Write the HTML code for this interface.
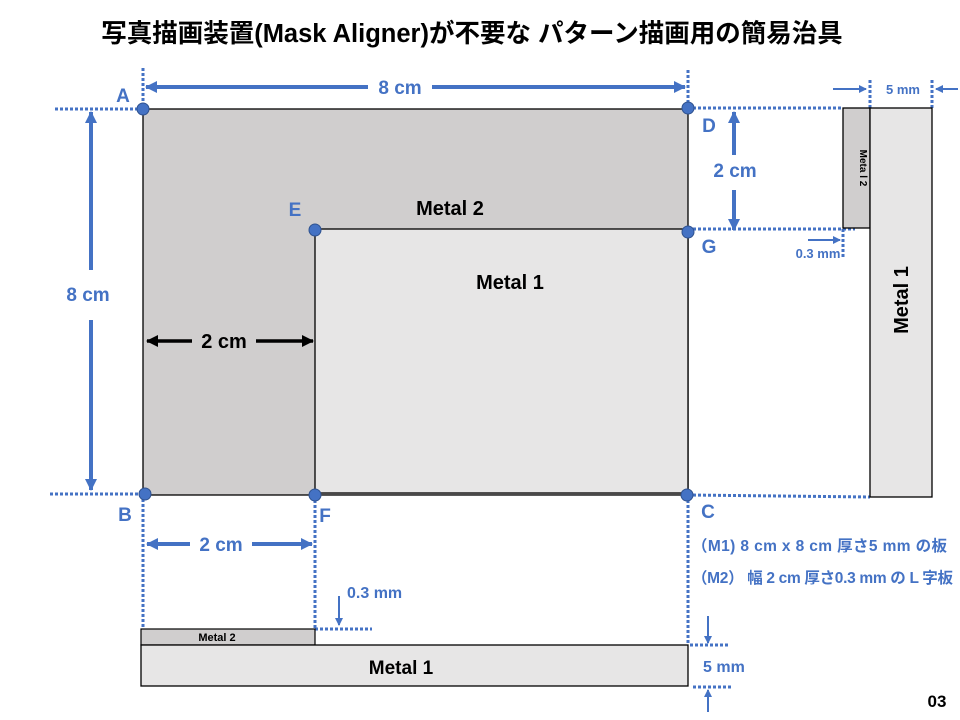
<!DOCTYPE html>
<html><head><meta charset="utf-8"><style>
html,body{margin:0;padding:0;background:#fff;width:960px;height:720px;overflow:hidden}
svg{display:block}
text{font-family:"Liberation Sans","Noto Sans CJK JP",sans-serif;font-weight:bold}
</style></head><body>
<svg width="960" height="720" viewBox="0 0 960 720" xmlns="http://www.w3.org/2000/svg">
<defs>
<marker id="ab" markerWidth="12" markerHeight="12" refX="11" refY="6" orient="auto" markerUnits="userSpaceOnUse"><path d="M0,0 L12,6 L0,12 z" fill="#4472c4"/></marker>
<marker id="ak" markerWidth="12" markerHeight="12" refX="11" refY="6" orient="auto" markerUnits="userSpaceOnUse"><path d="M0,0 L12,6 L0,12 z" fill="#000"/></marker>
<marker id="as" markerWidth="8" markerHeight="8" refX="7" refY="4" orient="auto" markerUnits="userSpaceOnUse"><path d="M0,0 L8,4 L0,8 z" fill="#4472c4"/></marker>
</defs>
<text x="472" y="42" font-size="25.5" text-anchor="middle" fill="#000">写真描画装置(Mask Aligner)が不要な パターン描画用の簡易治具</text>

<rect x="143" y="109" width="545" height="386" fill="#d0cece" stroke="#000" stroke-width="1.3"/>
<rect x="315" y="229" width="373" height="264" fill="#e7e6e6" stroke="#000" stroke-width="1.3"/>
<text x="450" y="215" font-size="20" text-anchor="middle" fill="#000">Metal 2</text>
<text x="510" y="289" font-size="20" text-anchor="middle" fill="#000">Metal 1</text>

<g stroke="#4472c4" stroke-width="3" stroke-dasharray="3,2" fill="none">
<line x1="55" y1="109" x2="143" y2="109"/>
<line x1="143" y1="68" x2="143" y2="109"/>
<line x1="688" y1="70" x2="688" y2="107"/>
<line x1="688" y1="108" x2="843" y2="108"/>
<line x1="688" y1="229" x2="855" y2="229"/>
<line x1="843" y1="229" x2="843" y2="258"/>
<line x1="50" y1="494" x2="145" y2="494"/>
<line x1="688" y1="495" x2="870" y2="497"/>
<line x1="143" y1="494" x2="143" y2="630"/>
<line x1="315" y1="495" x2="315" y2="628"/>
<line x1="688" y1="495" x2="688" y2="645"/>
<line x1="315" y1="629" x2="372" y2="629"/>
<line x1="690" y1="645" x2="728" y2="645"/>
<line x1="693" y1="687" x2="732" y2="687"/>
<line x1="870" y1="80" x2="870" y2="108"/>
<line x1="932" y1="80" x2="932" y2="108"/>
</g>

<g stroke="#4472c4" stroke-width="4">
<line x1="368" y1="87" x2="146" y2="87" marker-end="url(#ab)"/>
<line x1="432" y1="87" x2="685" y2="87" marker-end="url(#ab)"/>
<line x1="91" y1="270" x2="91" y2="112" marker-end="url(#ab)"/>
<line x1="91" y1="320" x2="91" y2="490" marker-end="url(#ab)"/>
<line x1="190" y1="544" x2="147" y2="544" marker-end="url(#ab)"/>
<line x1="252" y1="544" x2="312" y2="544" marker-end="url(#ab)"/>
<line x1="734" y1="155" x2="734" y2="112" marker-end="url(#ab)"/>
<line x1="734" y1="190" x2="734" y2="230" marker-end="url(#ab)"/>
</g>
<g stroke="#000" stroke-width="3.5">
<line x1="192" y1="341" x2="147" y2="341" marker-end="url(#ak)"/>
<line x1="256" y1="341" x2="313" y2="341" marker-end="url(#ak)"/>
</g>
<text x="224" y="348" font-size="20" text-anchor="middle" fill="#000">2 cm</text>
<g stroke="#4472c4" stroke-width="2">
<line x1="833" y1="89" x2="866" y2="89" marker-end="url(#as)"/>
<line x1="958" y1="89" x2="936" y2="89" marker-end="url(#as)"/>
<line x1="808" y1="240" x2="840" y2="240" marker-end="url(#as)"/>
<line x1="890" y1="240" x2="874" y2="240" marker-end="url(#as)"/>
<line x1="339" y1="596" x2="339" y2="625" marker-end="url(#as)"/>
<line x1="339" y1="680" x2="339" y2="649" marker-end="url(#as)"/>
<line x1="708" y1="616" x2="708" y2="643" marker-end="url(#as)"/>
<line x1="708" y1="712" x2="708" y2="690" marker-end="url(#as)"/>
</g>

<g fill="#4472c4" font-size="19">
<text x="400" y="94" text-anchor="middle">8 cm</text>
<text x="88" y="301" text-anchor="middle">8 cm</text>
<text x="221" y="551" text-anchor="middle">2 cm</text>
<text x="735" y="177" text-anchor="middle">2 cm</text>
<text x="123" y="102" text-anchor="middle">A</text>
<text x="709" y="132" text-anchor="middle">D</text>
<text x="295" y="216" text-anchor="middle">E</text>
<text x="709" y="253" text-anchor="middle">G</text>
<text x="125" y="521" text-anchor="middle">B</text>
<text x="325" y="522" text-anchor="middle">F</text>
<text x="708" y="518" text-anchor="middle">C</text>
</g>
<g fill="#4472c4" font-size="13">
<text x="903" y="94" text-anchor="middle">5 mm</text>
<text x="818" y="258" text-anchor="middle">0.3 mm</text>
</g>
<g fill="#4472c4" font-size="16">
<text x="347" y="598">0.3 mm</text>
<text x="703" y="672">5 mm</text>
</g>
<g fill="#4472c4" font-size="15.5">
<text x="692" y="551" textLength="255">（M1) 8  cm  x   8  cm  厚さ5 mm の板</text>
<text x="692" y="583" textLength="261">（M2）  幅 2 cm 厚さ0.3 mm の L 字板</text>
</g>

<g fill="#4472c4" stroke="#2f528f" stroke-width="1">
<circle cx="143" cy="109" r="6"/>
<circle cx="688" cy="108" r="6"/>
<circle cx="315" cy="230" r="6"/>
<circle cx="688" cy="232" r="6"/>
<circle cx="145" cy="494" r="6"/>
<circle cx="315" cy="495" r="6"/>
<circle cx="687" cy="495" r="6"/>
</g>

<rect x="843" y="108" width="27" height="120" fill="#d0cece" stroke="#000" stroke-width="1.3"/>
<rect x="870" y="108" width="62" height="389" fill="#e7e6e6" stroke="#000" stroke-width="1.3"/>
<text transform="translate(860,168) rotate(90)" font-size="10" text-anchor="middle" fill="#000">Meta l 2</text>
<text transform="translate(908,300) rotate(-90)" font-size="20" text-anchor="middle" fill="#000">Metal 1</text>

<rect x="141" y="629" width="174" height="16" fill="#d0cece" stroke="#000" stroke-width="1.2"/>
<rect x="141" y="645" width="547" height="41" fill="#e7e6e6" stroke="#000" stroke-width="1.3"/>
<text x="217" y="641" font-size="11" text-anchor="middle" fill="#000">Metal 2</text>
<text x="401" y="674" font-size="19" text-anchor="middle" fill="#000">Metal 1</text>

<text x="937" y="707" font-size="17" text-anchor="middle" fill="#000">03</text>
</svg>
</body></html>
